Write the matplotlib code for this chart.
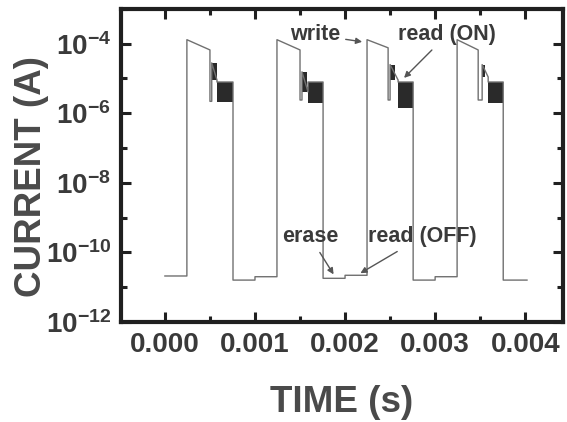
import math
import matplotlib
matplotlib.use('Agg')
import matplotlib.pyplot as plt
from matplotlib.ticker import FixedLocator, NullFormatter

# measured trace (time in s, current in A)
t_trace = [0.0, 0.000244, 0.000244, 0.0005, 0.0005, 0.00052, 0.00052, 0.000578, 0.000578, 0.000756, 0.000756,
           0.001, 0.001, 0.001244, 0.001244, 0.0015, 0.0015, 0.001522, 0.001522, 0.001589, 0.001589, 0.001756, 0.001756,
           0.002, 0.002, 0.002244, 0.002244, 0.002478, 0.002478, 0.0025, 0.0025, 0.002589, 0.002589, 0.002756, 0.002756,
           0.003, 0.003, 0.003244, 0.003244, 0.003478, 0.003478, 0.003522, 0.003522, 0.003589, 0.003589, 0.003756, 0.003756,
           0.00402]
i_trace = [2.1e-11, 2.1e-11, 1.3e-4, 6.6e-5, 2.2e-6, 2.2e-6, 2.8e-5, 9e-6, 7.9e-6, 7.9e-6, 1.6e-11,
           1.6e-11, 2.0e-11, 2.0e-11, 1.3e-4, 6.6e-5, 2.4e-6, 2.4e-6, 1.55e-5, 4.1e-6, 7.9e-6, 7.9e-6, 1.8e-11,
           1.8e-11, 2.2e-11, 2.2e-11, 1.3e-4, 7.6e-5, 2.4e-6, 2.4e-6, 2.5e-5, 9e-6, 7.9e-6, 7.9e-6, 1.6e-11,
           1.6e-11, 2.0e-11, 2.0e-11, 1.3e-4, 6.6e-5, 2.4e-6, 2.4e-6, 2.5e-5, 1.1e-5, 7.9e-6, 7.9e-6, 1.6e-11,
           1.6e-11]

# dense read-pulse blocks: start, end, high, low
blk_t0 = [0.00052, 0.000578, 0.001522, 0.001589, 0.0025, 0.002589, 0.003522, 0.003589]
blk_t1 = [0.000578, 0.000756, 0.001578, 0.001756, 0.002556, 0.002756, 0.003556, 0.003756]
blk_hi = [2.8e-5, 7.9e-6, 1.55e-5, 7.9e-6, 2.5e-5, 7.9e-6, 2.5e-5, 7.9e-6]
blk_lo = [9e-6, 2.1e-6, 4.1e-6, 2.0e-6, 9e-6, 1.4e-6, 1.1e-5, 2.0e-6]

x_ticks = [0.000, 0.001, 0.002, 0.003, 0.004]
x_minor = [-0.0005, 0.0005, 0.0015, 0.0025, 0.0035]
y_ticks = [1e-12, 1e-10, 1e-8, 1e-6, 1e-4]
y_minor = [1e-11, 1e-9, 1e-7, 1e-5, 1e-3]

plt.rcParams['font.family'] = ['Liberation Sans', 'DejaVu Sans']
plt.rcParams['font.weight'] = 'bold'
plt.rcParams['mathtext.fontset'] = 'custom'
plt.rcParams['mathtext.rm'] = 'Liberation Sans:bold'
plt.rcParams['mathtext.bf'] = 'Liberation Sans:bold'
plt.rcParams['mathtext.it'] = 'Liberation Sans:bold'

txt = '#3a3a3a'
fig = plt.figure(figsize=(5.67, 4.22), dpi=100)
ax = fig.add_axes([0.213, 0.237, 0.78, 0.742])

ax.plot(t_trace, i_trace, color='#707070', lw=1.0)
for t0, t1, hi, lo in zip(blk_t0, blk_t1, blk_hi, blk_lo):
    ax.fill_between([t0, t1], [lo, lo], [hi, hi], color='#2a2a2a', lw=0)

ax.set_yscale('log')
ax.set_xlim(-0.00049, 0.00442)
ax.set_ylim(1e-12, 1e-3)

ax.xaxis.set_major_locator(FixedLocator(x_ticks))
ax.xaxis.set_minor_locator(FixedLocator(x_minor))
ax.yaxis.set_major_locator(FixedLocator(y_ticks))
ax.yaxis.set_minor_locator(FixedLocator(y_minor))
ax.yaxis.set_minor_formatter(NullFormatter())
ax.set_xticklabels(['%.3f' % v for v in x_ticks])
ax.set_yticklabels([r'$10^{%d}$' % round(math.log10(v)) for v in y_ticks])

ax.tick_params(which='both', direction='in', top=True, right=True, width=2.2, colors='#202020',
               labelcolor=txt)
ax.tick_params(which='major', length=7, labelsize=20, pad=7)
ax.tick_params(which='minor', length=4.5)
for s in ax.spines.values():
    s.set_linewidth(3)
    s.set_color('#202020')

ax.set_xlabel('TIME (s)', fontsize=26.5, fontweight='bold', color='#4a4a4a', labelpad=20)
ax.set_ylabel('CURRENT (A)', fontsize=26.5, fontweight='bold', color='#4a4a4a', labelpad=-2)
ax.yaxis.label.set_y(0.466)

arr = dict(arrowstyle='-|>', color='#555555', lw=1.0, mutation_scale=9)
ax.annotate('write', xy=(0.00222, 1.1e-4), xytext=(0.001667, 1.8e-4), fontsize=15.5,
            color=txt, ha='center', va='center', arrowprops=arr)
ax.annotate('read (ON)', xy=(0.002633, 9.1e-6), xytext=(0.003133, 1.8e-4), fontsize=15.5,
            color=txt, ha='center', va='center', arrowprops=arr)
ax.annotate('erase', xy=(0.001889, 2.0e-11), xytext=(0.001611, 2.8e-10), fontsize=15.5,
            color=txt, ha='center', va='center', arrowprops=arr)
ax.annotate('read (OFF)', xy=(0.002144, 2.3e-11), xytext=(0.002856, 2.8e-10), fontsize=15.5,
            color=txt, ha='center', va='center', arrowprops=arr)

fig.savefig('out.png', dpi=100)
